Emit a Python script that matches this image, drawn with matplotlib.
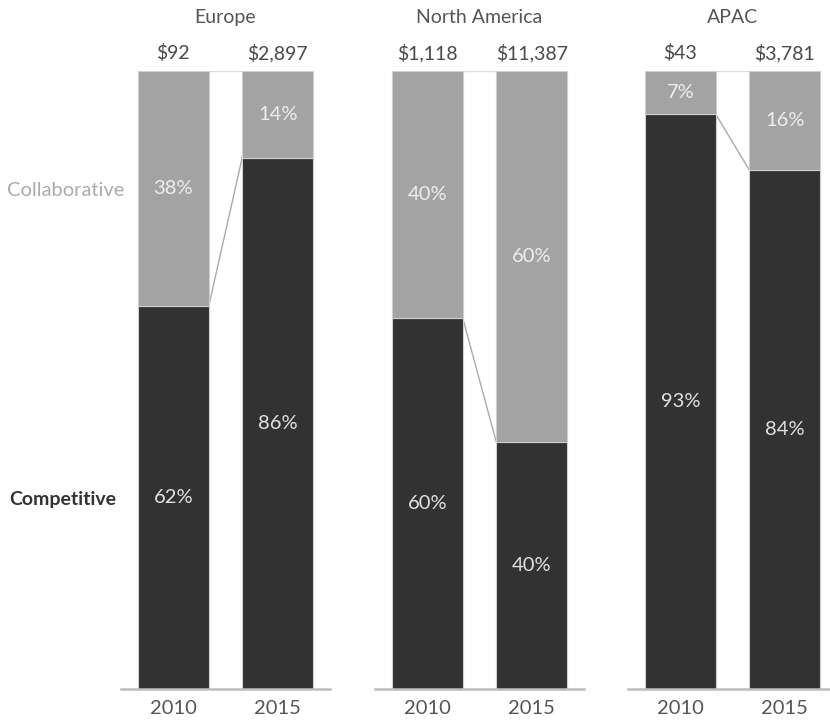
import matplotlib.pyplot as plt

plt.rcParams['font.family'] = ['Lato', 'DejaVu Sans']

regions = ['Europe', 'North America', 'APAC']
years = ['2010', '2015']
totals = [['$92', '$2,897'], ['$1,118', '$11,387'], ['$43', '$3,781']]
competitive = [[62, 86], [60, 40], [93, 84]]
collaborative = [[38, 14], [40, 60], [7, 16]]

DARK = '#323232'
LIGHT = '#a3a3a3'
EDGE = '#cfcfcf'

fig = plt.figure(figsize=(8.3, 7.2), dpi=100)
lefts = [121 / 830, 375 / 830, 628 / 830]

for k, region in enumerate(regions):
    ax = fig.add_axes([lefts[k], 31 / 720, 209 / 830, 618 / 720])
    x = [0, 1]
    comp = [v / 100 for v in competitive[k]]
    coll = [v / 100 for v in collaborative[k]]
    w = 0.68
    ax.bar(x, comp, width=w, color=DARK, edgecolor=EDGE, linewidth=0.8, zorder=2)
    ax.bar(x, coll, width=w, bottom=comp, color=LIGHT, edgecolor=EDGE, linewidth=0.8, zorder=2)

    # lines joining the two bars at the split and at the top
    ax.plot([w / 2, 1 - w / 2], [comp[0], comp[1]], color='#aaaaaa', lw=1.0, zorder=1)
    ax.plot([w / 2, 1 - w / 2], [1, 1], color='#dddddd', lw=1.0, zorder=1)

    for i in range(2):
        ax.text(x[i], comp[i] / 2, f'{competitive[k][i]}%', ha='center', va='center',
                color='#e2e2e2', fontsize=14.5)
        ax.text(x[i], comp[i] + coll[i] / 2, f'{collaborative[k][i]}%', ha='center', va='center',
                color='#eeeeee', fontsize=14.5)
        ax.text(x[i], 1.029, totals[k][i], ha='center', va='center', color='#4a4a4a', fontsize=14)

    ax.text(0.5, 1.087, region, ha='center', va='center', color='#555555', fontsize=14)

    ax.set_xlim(-0.5, 1.5)
    ax.set_ylim(0, 1)
    ax.set_xticks(x)
    ax.set_xticklabels(years, fontsize=14.5, color='#555555')
    ax.tick_params(axis='x', length=0, pad=8)
    ax.set_yticks([])
    for s in ['top', 'left', 'right']:
        ax.spines[s].set_visible(False)
    ax.spines['bottom'].set_color('#bdbdbd')
    ax.spines['bottom'].set_linewidth(1.8)

fig.text(124 / 830, 1 - 190 / 720, 'Collaborative', ha='right', va='center',
         color='#ababab', fontsize=14.5)
fig.text(116 / 830, 1 - 500 / 720, 'Competitive', ha='right', va='center',
         color='#333333', fontsize=14, fontweight='bold')

fig.savefig('out.png', dpi=100, facecolor='white')
